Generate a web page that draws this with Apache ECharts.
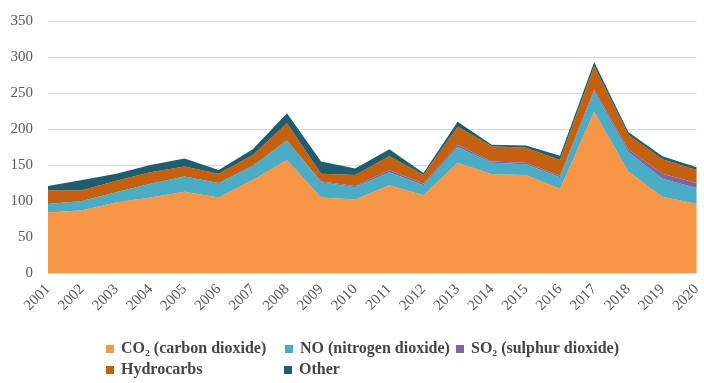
<!DOCTYPE html>
<html>
<head>
<meta charset="utf-8">
<script src="https://cdn.jsdelivr.net/npm/echarts@6/dist/echarts.min.js"></script>
<style>html,body{margin:0;padding:0;background:#fff}#c{width:704px;height:383px}</style>
</head>
<body>
<div id="c"></div>
<script>
var years = ['2001','2002','2003','2004','2005','2006','2007','2008','2009','2010','2011','2012','2013','2014','2015','2016','2017','2018','2019','2020'];
var co2   = [84, 87, 98, 105, 113, 105, 129, 157, 105, 102, 122, 108, 153, 137, 136, 117, 224, 141, 106, 96];
var no    = [12, 13, 14, 19, 21, 20, 19, 27, 21, 17, 18, 14, 22, 16, 15, 16, 28, 27, 25, 22];
var so2   = [0, 0, 0, 0, 0, 0, 1, 0, 1, 2, 3, 2, 3, 2, 2, 2, 3, 4, 7, 7];
var hydro = [19, 15, 16, 16, 14, 13, 15, 24, 11, 15, 19, 12, 25, 21, 21, 22, 32, 20, 20, 18];
var other = [6, 14, 10, 10, 11, 5, 8, 14, 17, 9, 10, 3, 7, 2, 3, 6, 6, 4, 4, 4];
var yTicks = [0, 50, 100, 150, 200, 250, 300, 350];

var names = ['CO\u2082 (carbon dioxide)', 'NO (nitrogen dioxide)', 'SO\u2082 (sulphur dioxide)', 'Hydrocarbs', 'Other'];
var colors = ['#F79646', '#4BACC6', '#8064A2', '#C5600F', '#1F5E6E'];
var datas = [co2, no, so2, hydro, other];

var font = '"Liberation Serif", "Times New Roman", serif';
var chart = echarts.init(document.getElementById('c'));
var legendPos = [[106, 341], [285, 341], [456, 341], [106, 362], [284, 362]];
var legends = names.map(function (n, i) {
  return {
    data: [n], left: legendPos[i][0], top: legendPos[i][1], padding: 0,
    icon: 'rect', itemWidth: 8, itemHeight: 8,
    textStyle: {fontFamily: font, fontSize: 16, fontWeight: 'bold', color: '#454545', padding: [0, 0, 0, 2]}
  };
});
chart.setOption({
  animation: false,
  color: colors,
  grid: {left: 48, right: 2, top: 21, bottom: 110},
  legend: legends,
  xAxis: {
    type: 'category', data: years, boundaryGap: false,
    axisLine: {show: true, lineStyle: {color: '#d9d9d9'}},
    axisTick: {show: false},
    axisLabel: {rotate: 45, interval: 0, fontFamily: font, fontSize: 15, color: '#595959', margin: 14}
  },
  yAxis: {
    type: 'value', min: yTicks[0], max: yTicks[yTicks.length - 1], interval: 50,
    axisLine: {show: false}, axisTick: {show: false},
    axisLabel: {fontFamily: font, fontSize: 15, color: '#595959', margin: 15},
    splitLine: {lineStyle: {color: '#d9d9d9', width: 1}}
  },
  series: names.map(function (n, i) {
    return {
      name: n, type: 'line', stack: 'total', data: datas[i],
      showSymbol: false, symbol: 'none',
      lineStyle: {width: 0},
      areaStyle: {color: colors[i], opacity: 1},
      itemStyle: {color: colors[i]}
    };
  })
});
</script>
</body>
</html>
